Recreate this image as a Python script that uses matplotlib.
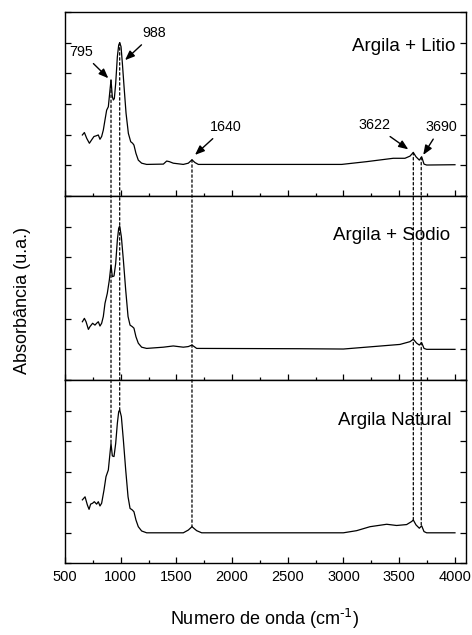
import numpy as np
import matplotlib
matplotlib.use("Agg")
import matplotlib.pyplot as plt
from matplotlib.patches import ConnectionPatch
from matplotlib.ticker import MultipleLocator

# Espectros (numero de onda em cm-1, absorbancia em u.a.)
wn_litio = [656, 674, 695, 719, 739, 760, 778, 799, 814, 829, 844, 859, 874,
            889, 904, 913, 925, 934, 943, 955, 970, 982, 991, 1003, 1015,
            1030, 1048, 1069, 1090, 1107, 1119, 1137, 1158, 1188, 1233, 1383,
            1413, 1437, 1472, 1562, 1607, 1640, 1667, 1697, 2610, 2984, 3208,
            3447, 3552, 3597, 3627, 3651, 3681, 3702, 3723, 3747, 4001]
ab_litio = [1.99, 2.07, 1.88, 1.72, 1.83, 1.94, 1.96, 1.99, 1.85, 1.94, 2.15,
            2.48, 2.80, 2.91, 3.46, 3.78, 3.24, 3.13, 3.18, 3.67, 4.54, 4.92,
            5.00, 4.87, 4.33, 3.57, 2.70, 2.04, 1.77, 1.72, 1.66, 1.39, 1.17,
            1.07, 1.03, 1.04, 1.14, 1.12, 1.07, 1.03, 1.07, 1.18, 1.09, 1.03,
            1.03, 1.03, 1.12, 1.23, 1.23, 1.30, 1.42, 1.28, 1.17, 1.28, 1.04,
            1.01, 1.02]

wn_sodio = [656, 674, 689, 710, 724, 748, 769, 784, 799, 814, 829, 844, 859,
            880, 898, 913, 925, 940, 955, 970, 982, 991, 1006, 1024, 1045,
            1066, 1084, 1104, 1119, 1137, 1158, 1188, 1233, 1383, 1472, 1562,
            1607, 1640, 1682, 2610, 2999, 3507, 3597, 3627, 3657, 3681, 3702,
            3723, 3747, 4001]
ab_sodio = [1.90, 2.01, 1.90, 1.65, 1.74, 1.85, 1.79, 1.85, 1.90, 1.76, 1.85,
            2.07, 2.50, 2.83, 3.26, 3.75, 3.37, 3.39, 3.80, 4.56, 4.95, 5.02,
            4.67, 3.91, 2.93, 2.07, 1.79, 1.74, 1.69, 1.41, 1.20, 1.07, 1.03,
            1.07, 1.11, 1.07, 1.09, 1.14, 1.03, 1.02, 1.01, 1.16, 1.25, 1.33,
            1.20, 1.14, 1.22, 1.03, 1.00, 1.00]

wn_natural = [656, 680, 701, 716, 730, 748, 763, 784, 799, 814, 829, 850, 868,
              889, 904, 913, 925, 940, 955, 970, 982, 991, 1006, 1024, 1045,
              1066, 1084, 1104, 1119, 1137, 1158, 1188, 1233, 1562, 1607, 1640,
              1682, 1727, 2610, 2999, 3118, 3238, 3388, 3477, 3567, 3612, 3627,
              3651, 3681, 3702, 3723, 3747, 4001]
ab_natural = [2.07, 2.17, 1.90, 1.76, 1.93, 1.96, 2.01, 1.93, 2.01, 1.87, 1.96,
              2.39, 2.83, 3.05, 3.60, 3.92, 3.51, 3.49, 3.92, 4.58, 4.96, 5.02,
              4.80, 4.03, 3.05, 2.17, 1.79, 1.74, 1.68, 1.41, 1.19, 1.05, 0.99,
              0.99, 1.08, 1.19, 1.06, 0.99, 0.99, 0.99, 1.06, 1.19, 1.27, 1.23,
              1.26, 1.36, 1.41, 1.25, 1.14, 1.22, 1.03, 0.99, 0.99]

# bandas marcadas com linhas pontilhadas
bandas = [913, 991, 1640, 3627, 3698]

# anotacoes do painel superior: texto, ponta da seta, posicao do texto
rotulos = ["795", "988", "1640", "3622", "3690"]
seta_xy = [(889, 3.84), (1039, 4.43), (1667, 1.34), (3582, 1.52), (3716, 1.34)]
texto_xy = [(648, 4.70), (1299, 5.31), (1941, 2.25), (3274, 2.31), (3875, 2.25)]

nomes = ["Argila + Litio", "Argila + Sodio", "Argila Natural"]

plt.rcParams.update({
    "font.family": ["Liberation Sans", "DejaVu Sans"],
    "mathtext.default": "regular",
    "axes.linewidth": 1.0,
})

fig = plt.figure(figsize=(4.72, 6.35), dpi=100)
L, W = 65 / 472, 401 / 472
ax1 = fig.add_axes([L, 1 - 196 / 635, W, 184 / 635])
ax2 = fig.add_axes([L, 1 - 380 / 635, W, 184 / 635])
ax3 = fig.add_axes([L, 1 - 563 / 635, W, 183 / 635])
axes = [ax1, ax2, ax3]
dados = [(wn_litio, ab_litio), (wn_sodio, ab_sodio), (wn_natural, ab_natural)]
pos_nome = [(0.973, 0.81), (0.960, 0.788), (0.965, 0.781)]

for ax, (x, y), nome, (px, py) in zip(axes, dados, nomes, pos_nome):
    ax.plot(x, y, color="k", lw=0.9)
    ax.set_xlim(500, 4100)
    ax.set_ylim(0, 6)
    ax.xaxis.set_major_locator(MultipleLocator(500))
    ax.xaxis.set_minor_locator(MultipleLocator(250))
    ax.yaxis.set_major_locator(MultipleLocator(1))
    ax.tick_params(which="both", direction="in", left=True, right=True,
                   top=False, bottom=True, labelleft=False, labelbottom=False)
    ax.tick_params(which="major", length=4.3, width=0.9)
    ax.tick_params(which="minor", length=2.4, width=0.9)
    ax.text(px, py, nome, transform=ax.transAxes, ha="right", va="center",
            fontsize=13.5)

ax3.tick_params(labelbottom=True, labelsize=10.5, pad=5)

for lbl, xy, xt in zip(rotulos, seta_xy, texto_xy):
    ax1.annotate(lbl, xy=xy, xytext=xt, ha="center", va="center", fontsize=10.3,
                 arrowprops=dict(arrowstyle="-|>,head_length=0.55,head_width=0.22",
                                 color="k", lw=1.0, shrinkA=2, shrinkB=0))

# linhas pontilhadas do pico do topo ate o pico da base
for b in bandas:
    y_top = np.interp(b, wn_litio, ab_litio)
    y_bot = np.interp(b, wn_natural, ab_natural)
    con = ConnectionPatch(xyA=(b, y_top), coordsA=ax1.transData,
                          xyB=(b, y_bot), coordsB=ax3.transData,
                          color="k", lw=0.9, ls=(0, (2, 2)))
    fig.add_artist(con)

fig.text(265 / 472, 1 - 619 / 635, r"Numero de onda (cm$^{\text{-1}}$)",
         ha="center", va="center", fontsize=13)
fig.text(23 / 472, 1 - 300 / 635, "Absorbância (u.a.)", rotation=90,
         ha="center", va="center", fontsize=13)

fig.savefig("out.png", dpi=100)
